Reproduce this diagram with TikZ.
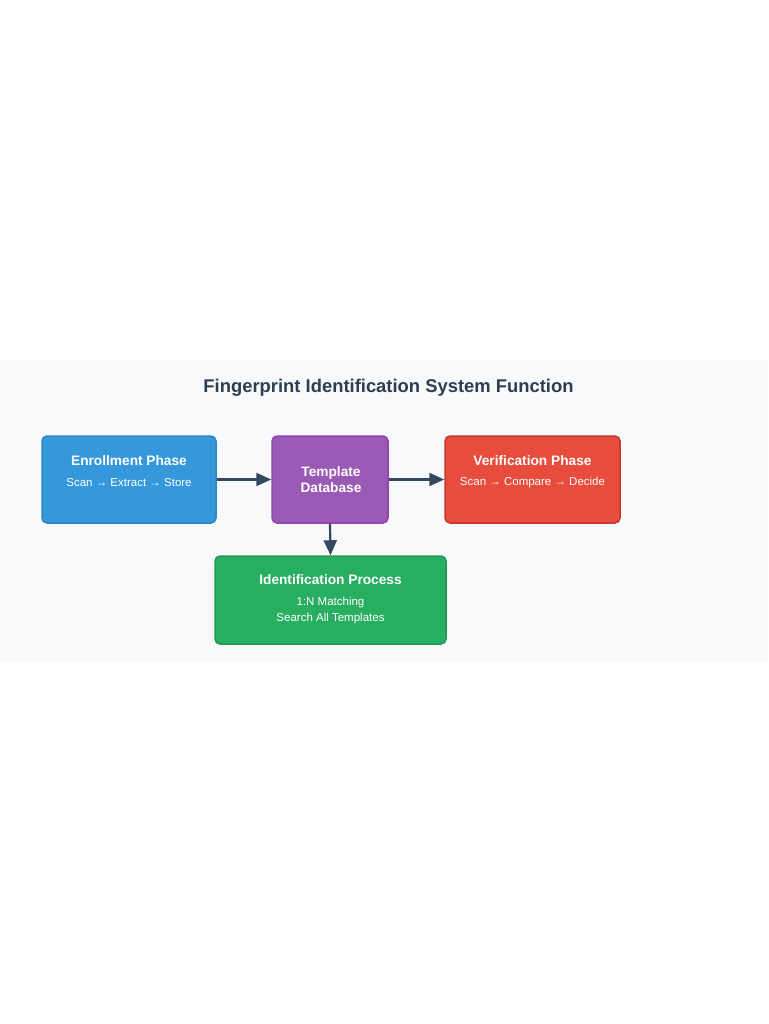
\documentclass[tikz,border=0pt]{standalone}
\usepackage{fontspec}
\setmainfont{Liberation Sans}
\usetikzlibrary{arrows.meta,positioning}

\definecolor{enrollblue}{HTML}{3498DB}
\definecolor{enrollline}{HTML}{2E86C1}
\definecolor{dbpurple}{HTML}{9B59B6}
\definecolor{dbline}{HTML}{8E44AD}
\definecolor{verifyred}{HTML}{E74C3C}
\definecolor{verifyline}{HTML}{C0392B}
\definecolor{identgreen}{HTML}{27AE60}
\definecolor{identline}{HTML}{229954}
\definecolor{flowdark}{HTML}{34495E}
\definecolor{titledark}{HTML}{2C3E50}
\definecolor{panelgray}{HTML}{F8F9FA}

\begin{document}
\begin{tikzpicture}[
    x=1pt, y=-1pt,
    >={Triangle[length=15pt,width=13pt]},
    phase/.style={draw, line width=1.5pt, rounded corners=5pt, minimum width=174pt, minimum height=87pt, inner sep=0pt},
    head/.style={text=white, font=\bfseries\fontsize{13.7}{16}\selectfont, align=center},
    detail/.style={text=white, font=\fontsize{11.5}{16}\selectfont, align=center},
    flow/.style={->, draw=flowdark, line width=2.2pt}
]
\useasboundingbox (0,0) rectangle (768,1024);
\fill[white] (0,0) rectangle (768,1024);
\fill[panelgray] (0,360) rectangle (768,662);

\node[text=titledark, font=\bfseries\fontsize{18.4}{21}\selectfont] (title) at (388.5,387.5) {Fingerprint Identification System Function};

\node[phase, fill=enrollblue, draw=enrollline] (enroll) at (129,479.5) {};
\node[head] (enrollhead) at (129,461) {Enrollment Phase};
\node[detail] (enrolltext) at (129,483) {Scan → Extract → Store};

\node[phase, fill=dbpurple, draw=dbline, minimum width=116pt] (db) at (330,479.5) {};
\node[head, font=\bfseries\fontsize{13.7}{16}\selectfont] (dbhead) at (331,479.5) {Template\\Database};

\node[phase, fill=verifyred, draw=verifyline, minimum width=175pt] (verify) at (532.5,479.5) {};
\node[head] (verifyhead) at (532.5,461) {Verification Phase};
\node[detail] (verifytext) at (532.5,483) {Scan → Compare → Decide};

\node[phase, fill=identgreen, draw=identline, minimum width=231pt, minimum height=88pt] (ident) at (330.5,600) {};
\node[head] (identhead) at (330.5,580) {Identification Process};
\node[detail] (identtext) at (330.5,611) {1:N Matching\\Search All Templates};

\draw[flow] (enroll.east) -- (db.west);
\draw[flow] (db.east) -- (verify.west);
\draw[flow] (db.south) -- (ident.north);
\end{tikzpicture}
\end{document}
